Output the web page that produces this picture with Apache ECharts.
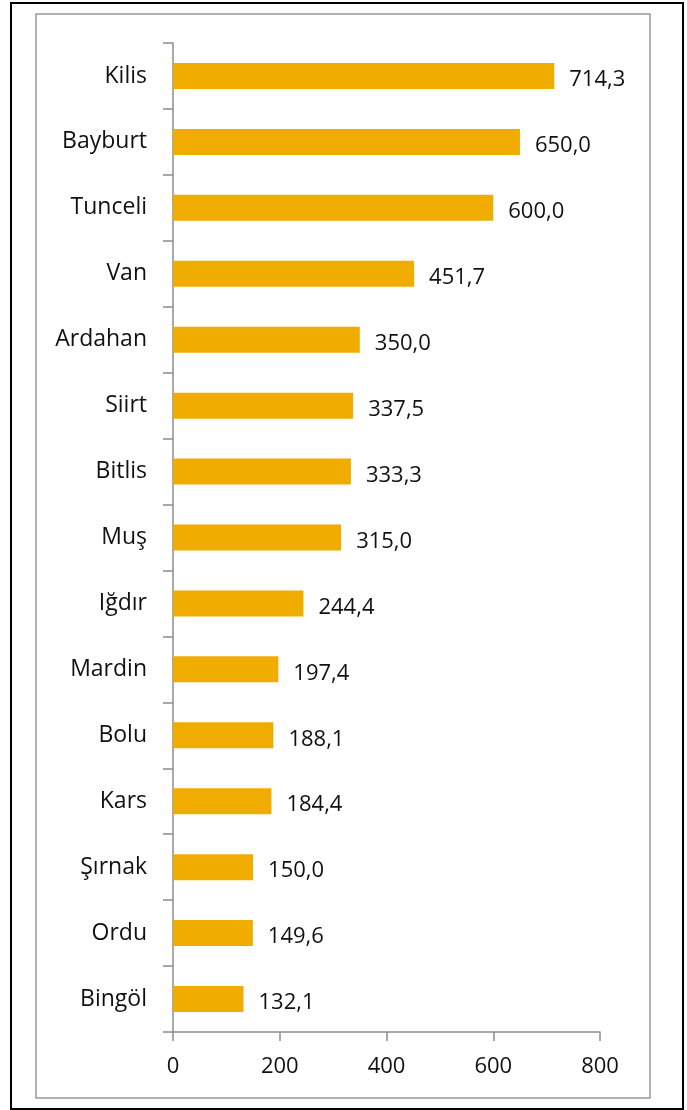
<!DOCTYPE html>
<html>
<head>
<meta charset="utf-8">
<script src="https://cdn.jsdelivr.net/npm/echarts@6/dist/echarts.min.js"></script>
<style>
html,body{margin:0;padding:0;background:#fff;}
#chart{width:687px;height:1110px;}
</style>
</head>
<body>
<div id="chart"></div>
<script>
const categories = ["Kilis","Bayburt","Tunceli","Van","Ardahan","Siirt","Bitlis","Muş","Iğdır","Mardin","Bolu","Kars","Şırnak","Ordu","Bingöl"];
const values = [714.3,650.0,600.0,451.7,350.0,337.5,333.3,315.0,244.4,197.4,188.1,184.4,150.0,149.6,132.1];
const xTicks = [0,200,400,600,800];

const chart = echarts.init(document.getElementById('chart'));
const font = '"Open Sans", sans-serif';
chart.setOption({
  animation: false,
  backgroundColor: '#fff',
  textStyle: { fontFamily: font },
  grid: { left: 173, right: 87, top: 43, bottom: 78, containLabel: false },
  xAxis: {
    type: 'value', min: xTicks[0], max: xTicks[xTicks.length-1], interval: 200,
    axisLine: { show: true, lineStyle: { color: '#8c8c8c', width: 1.5 } },
    axisTick: { show: true, length: 9, lineStyle: { color: '#8c8c8c', width: 1.5 } },
    splitLine: { show: false },
    axisLabel: { margin: 24, color: '#111', fontSize: 22, fontFamily: font }
  },
  yAxis: {
    type: 'category', data: categories, inverse: true,
    axisLine: { show: true, lineStyle: { color: '#8c8c8c', width: 1.5 } },
    axisTick: { show: true, length: 10, lineStyle: { color: '#8c8c8c', width: 1.5 } },
    axisLabel: { margin: 26, color: '#111', fontSize: 23, fontFamily: font }
  },
  series: [{
    type: 'bar', data: values, barWidth: 26,
    itemStyle: { color: '#F0AD00' },
    label: {
      show: true, position: 'right', distance: 15, offset: [0, 4],
      color: '#111', fontSize: 22, fontFamily: font,
      formatter: p => p.value.toFixed(1).replace('.', ',')
    }
  }],
  graphic: [
    { type: 'rect', shape: { x: 11, y: 3, width: 672, height: 1106 }, style: { fill: 'none', stroke: '#000', lineWidth: 2 }, silent: true },
    { type: 'rect', shape: { x: 36, y: 14, width: 614, height: 1084 }, style: { fill: 'none', stroke: '#999', lineWidth: 1.5 }, silent: true }
  ]
});
</script>
</body>
</html>
